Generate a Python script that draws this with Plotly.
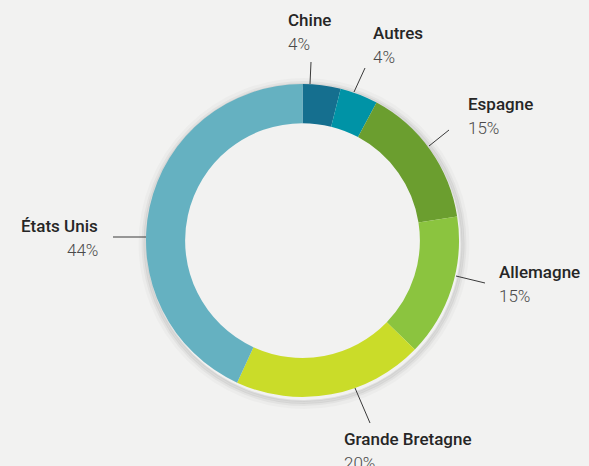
import plotly.graph_objects as go

# Répartition par pays
countries = ["Chine", "Autres", "Espagne", "Allemagne", "Grande Bretagne", "États Unis"]
shares = [4, 4, 15, 15, 20, 44]
colors = ["#156f8f", "#0093a6", "#6b9e2f", "#8bc43f", "#cadc29", "#65b1c1"]

W, H = 589, 466
CX, CY, R = 302.5, 240.5, 156.5
FONT = "Roboto, Liberation Sans, Arial, sans-serif"

# label layout in pixels: (text x, name y, anchor, leader start, leader end)
label_layout = {
    "Chine": (286, 20, "left", (310, 84), (311, 62)),
    "Autres": (371, 33, "left", (354, 92), (365, 68)),
    "Espagne": (466, 104, "left", (429, 146), (449, 130)),
    "Allemagne": (497, 272, "left", (456, 276), (485, 283)),
    "Grande Bretagne": (342, 439, "left", (355, 388), (370, 423)),
    "États Unis": (100, 226, "right", (146, 237), (113, 237)),
}


def px(x):
    return x / W


def py(y):
    return 1 - y / H


fig = go.Figure()
fig.add_trace(
    go.Pie(
        labels=countries,
        values=shares,
        hole=0.75,
        sort=False,
        direction="clockwise",
        rotation=0,
        marker={"colors": colors, "line": {"width": 0}},
        textinfo="none",
        hoverinfo="label+value",
        showlegend=False,
        domain={
            "x": [px(CX - R), px(CX + R)],
            "y": [py(CY + R), py(CY - R)],
        },
    )
)

shapes = []
# soft drop shadow around the ring (unfilled circles so the hole stays clear)
for grow, width, alpha in [(6, 6, 0.025), (4, 4, 0.04), (2.5, 3, 0.06), (1, 2, 0.08)]:
    shapes.append(
        dict(
            type="circle", xref="paper", yref="paper", layer="below",
            x0=px(CX - R - grow + 1.5), x1=px(CX + R + grow + 1.5),
            y0=py(CY + R + grow + 3), y1=py(CY - R - grow + 3),
            fillcolor="rgba(0,0,0,0)",
            line={"color": f"rgba(0,0,0,{alpha})", "width": width},
        )
    )

annotations = []
for name, share in zip(countries, shares):
    tx, ty, anchor, (x0, y0), (x1, y1) = label_layout[name]
    shapes.append(
        dict(
            type="line", xref="paper", yref="paper",
            x0=px(x0), y0=py(y0), x1=px(x1), y1=py(y1),
            line={"color": "#3a3a3a", "width": 1},
        )
    )
    annotations.append(
        dict(
            text=name, x=px(tx), y=py(ty), xref="paper", yref="paper",
            xanchor=anchor, yanchor="middle", showarrow=False,
            font={"family": FONT, "size": 17, "color": "#262626", "weight": 500},
        )
    )
    annotations.append(
        dict(
            text=f"{share}%", x=px(tx), y=py(ty + 24), xref="paper", yref="paper",
            xanchor=anchor, yanchor="middle", showarrow=False,
            font={"family": FONT, "size": 17, "color": "#4a4a4a", "weight": 300},
        )
    )

fig.update_layout(
    width=W,
    height=H,
    margin={"l": 0, "r": 0, "t": 0, "b": 0},
    paper_bgcolor="#f2f2f1",
    plot_bgcolor="#f2f2f1",
    shapes=shapes,
    annotations=annotations,
)

fig.write_html(
    "out.html",
    config={"displayModeBar": False},
    post_script="document.body.style.margin='0';",
)
